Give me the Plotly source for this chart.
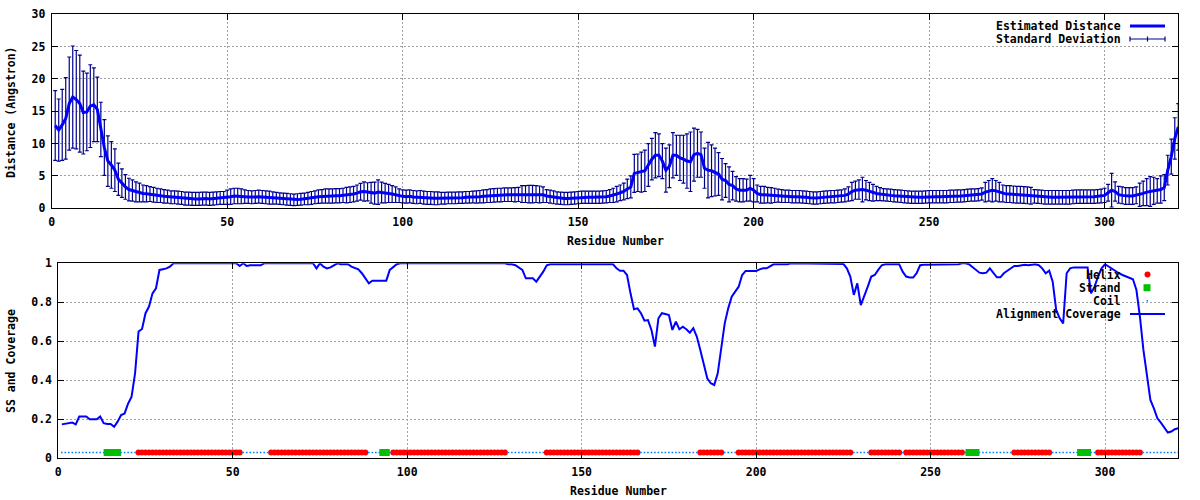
import plotly.graph_objects as go

# ---------------- data ----------------
residues = list(range(1, 322))

distance = [
    12.8, 12.1, 12.9, 13.9, 16.2, 17.2, 16.8, 16.2, 14.8, 14.9,
    15.8, 16.0, 15.3, 12.2, 9.4, 7.3, 6.7, 5.9, 4.5, 3.9,
    3.3, 2.9, 2.75, 2.55, 2.45, 2.3, 2.25, 2.2, 2.1, 2.0,
    1.95, 1.85, 1.8, 1.7, 1.7, 1.65, 1.6, 1.5, 1.5, 1.45,
    1.45, 1.45, 1.5, 1.5, 1.45, 1.5, 1.55, 1.6, 1.6, 1.7,
    1.8, 1.9, 1.9, 1.85, 1.8, 1.75, 1.7, 1.75, 1.8, 1.75,
    1.7, 1.65, 1.6, 1.55, 1.5, 1.45, 1.4, 1.35, 1.3, 1.35,
    1.4, 1.45, 1.5, 1.6, 1.7, 1.8, 1.85, 1.9, 1.9, 1.9,
    1.95, 1.95, 2.0, 2.05, 2.1, 2.2, 2.35, 2.55, 2.6, 2.55,
    2.4, 2.35, 2.5, 2.45, 2.35, 2.3, 2.2, 2.1, 1.95, 1.85,
    1.8, 1.85, 1.75, 1.7, 1.75, 1.65, 1.6, 1.6, 1.55, 1.55,
    1.55, 1.55, 1.6, 1.6, 1.6, 1.65, 1.65, 1.7, 1.7, 1.75,
    1.75, 1.8, 1.85, 1.9, 1.95, 2.0, 2.05, 2.05, 2.1, 2.1,
    2.1, 2.1, 2.15, 2.2, 2.2, 2.2, 2.2, 2.2, 2.15, 2.1,
    1.9, 1.8, 1.7, 1.6, 1.55, 1.5, 1.5, 1.55, 1.6, 1.65,
    1.7, 1.7, 1.7, 1.7, 1.7, 1.7, 1.75, 1.8, 1.9, 2.0,
    2.2, 2.4, 2.6, 3.0, 3.3, 5.4, 5.5, 5.6, 5.8, 6.7,
    7.6, 8.2, 8.2, 7.3, 5.9, 6.5, 8.2, 8.2, 7.8, 7.6,
    7.3, 7.2, 8.3, 8.5, 8.3, 6.2, 5.9, 5.8, 5.6, 5.3,
    4.5, 4.3, 3.7, 3.5, 3.0, 2.8, 2.8, 2.8, 3.1, 2.8,
    2.3, 2.1, 2.1, 2.05, 2.0, 2.0, 1.95, 1.9, 1.85, 1.85,
    1.8, 1.8, 1.8, 1.75, 1.7, 1.65, 1.6, 1.6, 1.65, 1.7,
    1.75, 1.8, 1.8, 1.85, 1.9, 2.0, 2.2, 2.6, 2.8, 2.9,
    2.9, 2.8, 2.6, 2.4, 2.3, 2.2, 2.1, 2.05, 2.0, 1.95,
    1.9, 1.85, 1.8, 1.75, 1.7, 1.7, 1.7, 1.7, 1.75, 1.8,
    1.8, 1.8, 1.8, 1.8, 1.8, 1.85, 1.85, 1.9, 1.9, 1.95,
    2.0, 2.05, 2.05, 2.1, 2.2, 2.5, 2.7, 2.8, 2.7, 2.5,
    2.3, 2.2, 2.2, 2.15, 2.1, 2.1, 2.05, 2.0, 1.95, 1.85,
    1.8, 1.75, 1.7, 1.7, 1.7, 1.7, 1.7, 1.7, 1.7, 1.7,
    1.75, 1.8, 1.8, 1.8, 1.8, 1.8, 1.8, 1.85, 1.9, 2.0,
    2.4, 2.8, 2.6, 2.1, 2.0, 1.9, 1.9, 1.9, 2.0, 2.1,
    2.3, 2.5, 2.6, 2.7, 2.7, 2.9, 3.2, 5.9, 8.0, 10.8,
    12.6,
]

std_dev = [
    5.4, 4.8, 5.5, 6.3, 7.2, 7.9, 7.6, 7.5, 6.4, 6.0,
    6.4, 5.7, 5.0, 4.2, 4.3, 3.9, 3.6, 3.3, 2.5, 2.2,
    1.9, 1.75, 1.65, 1.55, 1.45, 1.3, 1.25, 1.15, 1.15, 1.1,
    1.05, 1.05, 1.0, 1.0, 1.0, 1.0, 1.0, 1.0, 1.0, 1.0,
    1.0, 1.0, 1.0, 1.0, 1.0, 1.0, 1.0, 1.0, 1.0, 1.1,
    1.2, 1.2, 1.2, 1.15, 1.05, 1.0, 1.0, 1.0, 1.0, 1.0,
    1.0, 1.0, 0.95, 0.9, 0.9, 0.9, 0.9, 0.9, 0.9, 0.9,
    0.9, 0.9, 0.95, 1.0, 1.0, 1.05, 1.05, 1.1, 1.1, 1.1,
    1.1, 1.1, 1.1, 1.2, 1.2, 1.2, 1.25, 1.3, 1.5, 1.4,
    1.6, 1.7, 1.9, 1.6, 1.5, 1.4, 1.3, 1.2, 1.05, 1.0,
    1.0, 1.0, 1.0, 1.0, 1.0, 1.0, 1.0, 1.0, 1.0, 1.0,
    0.9, 0.9, 0.9, 0.9, 0.9, 0.9, 0.9, 0.9, 0.9, 0.9,
    0.95, 0.95, 1.0, 1.0, 1.05, 1.05, 1.05, 1.05, 1.05, 1.05,
    1.05, 1.1, 1.1, 1.3, 1.3, 1.35, 1.35, 1.3, 1.3, 1.2,
    1.0, 1.0, 1.0, 0.95, 0.95, 0.95, 0.95, 0.95, 0.95, 0.95,
    0.95, 0.95, 0.95, 0.95, 0.95, 0.95, 0.95, 0.95, 1.0, 1.1,
    1.2, 1.2, 1.3, 1.5, 1.7, 2.95, 2.9, 3.1, 3.2, 3.3,
    3.2, 3.5, 3.3, 2.7, 3.4, 3.3, 3.5, 3.1, 3.5, 3.7,
    4.2, 4.6, 4.1, 3.7, 3.5, 3.1, 4.3, 4.0, 3.7, 3.3,
    3.2, 2.6, 2.7, 2.2, 1.9, 1.8, 1.8, 1.7, 2.0, 1.8,
    1.3, 1.3, 1.3, 1.2, 1.2, 1.1, 1.0, 1.0, 0.95, 0.95,
    0.95, 0.95, 0.95, 0.95, 0.95, 0.95, 0.95, 0.95, 0.95, 0.95,
    0.95, 0.95, 0.95, 0.95, 0.95, 1.0, 1.1, 1.4, 1.4, 1.5,
    1.9, 1.5, 1.4, 1.3, 1.1, 1.0, 0.95, 0.95, 0.95, 0.95,
    0.95, 0.95, 0.95, 0.95, 0.95, 0.95, 0.95, 0.95, 0.95, 0.95,
    0.95, 0.95, 0.95, 0.95, 0.95, 0.95, 0.95, 0.95, 0.95, 0.95,
    0.95, 0.95, 0.95, 0.95, 0.95, 1.5, 1.6, 1.8, 1.6, 1.5,
    1.3, 1.3, 1.3, 1.3, 1.3, 1.3, 1.3, 1.3, 1.3, 1.05,
    1.05, 1.05, 1.05, 1.05, 1.05, 1.05, 1.05, 1.05, 1.05, 1.05,
    1.05, 1.05, 1.05, 1.05, 1.05, 1.05, 1.05, 1.05, 1.05, 1.1,
    1.3, 2.6, 1.5, 1.3, 1.3, 1.3, 1.3, 1.3, 1.3, 1.8,
    1.9, 2.1, 2.3, 2.1, 1.9, 2.1, 2.0, 2.3, 2.7, 3.2,
    3.6,
]

coverage = (
    [0.174, 0.178, 0.18, 0.183, 0.174, 0.214, 0.214, 0.214, 0.2, 0.2,
     0.2, 0.214, 0.18, 0.176, 0.176, 0.162, 0.188, 0.222, 0.23, 0.28,
     0.316, 0.436, 0.65, 0.663, 0.744, 0.778, 0.846, 0.872, 0.966, 0.97,
     0.974, 0.983]
    + [1.0] * 19                                   # 33-51
    + [0.986, 1.0, 0.986, 0.99, 0.99, 0.99, 0.99]  # 52-58
    + [1.0] * 15                                   # 59-73
    + [0.974, 1.0, 0.983, 0.974, 0.979, 0.99, 1.0, 0.995, 0.995, 0.995,
       0.983, 0.974, 0.969, 0.949, 0.923, 0.897, 0.911, 0.911, 0.911, 0.911,
       0.911, 0.966, 0.983, 0.995]                 # 74-97
    + [1.0] * 31                                   # 98-128
    + [0.995, 0.995, 0.99, 0.979, 0.966, 0.923, 0.923, 0.923, 0.906, 0.932,
       0.957, 0.99]                                # 129-140
    + [0.995] * 19                                 # 141-159
    + [0.974, 0.962, 0.962, 0.94, 0.846, 0.764, 0.769, 0.744, 0.706, 0.709,
       0.658, 0.573, 0.718, 0.744, 0.74, 0.735, 0.658, 0.701, 0.662, 0.675,
       0.662, 0.644, 0.667, 0.624, 0.556, 0.479, 0.41, 0.385, 0.376, 0.436,
       0.556, 0.692, 0.769, 0.829, 0.855, 0.88, 0.94, 0.961, 0.961, 0.961,
       0.961, 0.969, 0.974, 0.974, 0.986, 0.995, 0.995, 0.995, 0.995, 0.995]  # 160-209
    + [1.0] * 14                                   # 210-223
    + [0.997, 0.997, 0.974, 0.932, 0.838, 0.897, 0.786, 0.829, 0.88, 0.932,
       0.94, 0.966, 0.99, 0.995, 0.995, 0.995, 0.995, 0.995, 0.957, 0.932,
       0.927, 0.927, 0.949, 0.99]                  # 224-247
    + [0.993] * 10                                 # 248-257
    + [0.995, 1.0, 1.0, 0.995, 0.979, 0.966, 0.952, 0.949, 0.952, 0.974,
       0.949, 0.928, 0.928, 0.949, 0.962, 0.974, 0.986, 0.986, 0.988, 0.993,
       0.99, 0.993, 0.995, 0.99, 0.974, 0.949, 0.962, 0.906, 0.761, 0.718,
       0.692, 0.949, 0.974, 0.979, 0.979, 0.979, 0.979, 0.979, 0.846, 0.88,
       0.932, 0.974, 0.995, 0.983, 0.974, 0.962, 0.949, 0.94, 0.932, 0.923,
       0.918, 0.863, 0.726, 0.556, 0.419, 0.299, 0.256, 0.205, 0.183, 0.154,
       0.132, 0.137, 0.149, 0.154]                 # 258-321
)

helix_segments = [(23, 52), (61, 88), (96, 128), (140, 166), (184, 190),
                  (195, 227), (233, 241), (243, 259), (274, 284), (298, 310)]
strand_segments = [(14, 17), (93, 94), (261, 263), (293, 295)]
ss_level = 0.03

x_ticks = [0, 50, 100, 150, 200, 250, 300]
dist_ticks = [0, 5, 10, 15, 20, 25, 30]
cov_ticks = [0, 0.2, 0.4, 0.6, 0.8, 1]
x_range = [0, 321]

# ---------------- derived ----------------
def in_segments(r, segs):
    return any(a <= r <= b for a, b in segs)

helix_x = [r for r in residues if in_segments(r, helix_segments)]
strand_x = [r for r in residues if in_segments(r, strand_segments)]
coil_x = [r for r in residues if r not in helix_x and r not in strand_x]

# ---------------- styling ----------------
W, H = 1200, 500
FONT = dict(family="DejaVu Sans Mono", size=11.5, color="black", weight="bold")
BLUE = "#0000ff"
NAVY = "#00008b"
RED = "#ff0000"
GREEN = "#00c000"
COIL = "#0080ff"
GRID = "#a0a0a0"

def px(x):
    return x / W

def py(y):
    return 1 - y / H

fig = go.Figure()

# top panel
fig.add_trace(go.Scatter(
    x=residues, y=distance, mode="markers", marker=dict(size=0.1, color=NAVY),
    error_y=dict(type="data", array=std_dev, visible=True, color=NAVY,
                 thickness=1.2, width=2),
    xaxis="x", yaxis="y", showlegend=False, hoverinfo="skip"))
fig.add_trace(go.Scatter(
    x=residues, y=distance, mode="lines", line=dict(color=BLUE, width=3),
    xaxis="x", yaxis="y", showlegend=False))

# bottom panel
fig.add_trace(go.Scatter(
    x=helix_x, y=[ss_level] * len(helix_x), mode="markers",
    marker=dict(symbol="circle", size=6, color=RED, line=dict(width=0)),
    xaxis="x2", yaxis="y2", showlegend=False))
fig.add_trace(go.Scatter(
    x=strand_x, y=[ss_level] * len(strand_x), mode="markers",
    marker=dict(symbol="square", size=7, color=GREEN, line=dict(width=0)),
    xaxis="x2", yaxis="y2", showlegend=False))
fig.add_trace(go.Scatter(
    x=coil_x, y=[ss_level] * len(coil_x), mode="markers",
    marker=dict(symbol="square", size=1.6, color=COIL, line=dict(width=0)),
    xaxis="x2", yaxis="y2", showlegend=False))
fig.add_trace(go.Scatter(
    x=residues, y=coverage, mode="lines", line=dict(color=BLUE, width=2),
    xaxis="x2", yaxis="y2", showlegend=False))

axis_common = dict(
    showline=True, mirror="ticks", linecolor="black", linewidth=1,
    ticks="inside", ticklen=6, tickcolor="black", tickwidth=1,
    showgrid=True, gridcolor=GRID, griddash="2px,2px", gridwidth=1,
    zeroline=False, tickfont=FONT, automargin=False,
)

fig.update_layout(
    width=W, height=H,
    margin=dict(l=0, r=0, t=0, b=0),
    paper_bgcolor="white", plot_bgcolor="white",
    showlegend=False,
    font=FONT,
    xaxis=dict(domain=[px(51.7), px(1178.3)], range=x_range, tickvals=x_ticks,
               anchor="y", ticklabelstandoff=3, **axis_common),
    yaxis=dict(domain=[py(208.3), py(14.3)], range=[0, 30], tickvals=dist_ticks,
               anchor="x", ticklabelstandoff=3, **axis_common),
    xaxis2=dict(domain=[px(58.3), px(1178.3)], range=x_range, tickvals=x_ticks,
                anchor="y2", ticklabelstandoff=3, **axis_common),
    yaxis2=dict(domain=[py(458.3), py(263.3)], range=[0, 1], tickvals=cov_ticks,
                anchor="x2", ticklabelstandoff=3, **axis_common),
)

annotations = []

def text(s, x, y, xanchor="center", angle=0):
    annotations.append(dict(text=s, x=px(x), y=py(y), xref="paper", yref="paper",
                            xanchor=xanchor, yanchor="middle", showarrow=False,
                            textangle=angle, font=FONT))

# axis titles
text("Distance (Angstron)", 11, 112, angle=-90)
text("Residue Number", 615, 241)
text("SS and Coverage", 11, 361, angle=-90)
text("Residue Number", 618, 491)

# key texts
text("Estimated Distance", 1123, 26, xanchor="right")
text("Standard Deviation", 1123, 39, xanchor="right")
text("Helix", 1123, 274.5, xanchor="right")
text("Strand", 1123, 287.7, xanchor="right")
text("Coil", 1123, 300.8, xanchor="right")
text("Alignment Coverage", 1123, 314, xanchor="right")

fig.update_layout(annotations=annotations)

shapes = []

def pline(x0, y0, x1, y1, color, width, layer="above"):
    shapes.append(dict(type="line", xref="paper", yref="paper",
                       x0=px(x0), y0=py(y0), x1=px(x1), y1=py(y1),
                       line=dict(color=color, width=width), layer=layer))

def prect(x0, y0, x1, y1, color, kind="rect", layer="above"):
    shapes.append(dict(type=kind, xref="paper", yref="paper",
                       x0=px(x0), y0=py(y1), x1=px(x1), y1=py(y0),
                       fillcolor=color, line=dict(width=0), layer=layer))

# key areas hide the grid (as gnuplot does)
prect(993, 15, 1177, 45, "white", layer="between")
prect(999, 264, 1177, 320, "white", layer="between")

# key samples
pline(1130, 26, 1165, 26, BLUE, 3)
pline(1130, 39, 1165, 39, NAVY, 1.2)
for xx in (1130, 1147.5, 1165):
    pline(xx, 36.5, xx, 41.5, NAVY, 1.2)
prect(1144.5, 271.5, 1150.5, 277.5, RED, kind="circle")
prect(1143.5, 284.2, 1150.5, 291.2, GREEN)
prect(1146.5, 300, 1148, 301.5, COIL)
pline(1130, 314, 1165, 314, BLUE, 2)

fig.update_layout(shapes=shapes)

fig.write_html("out.html", config={"displayModeBar": False},
               post_script="document.body.style.margin='0';")
